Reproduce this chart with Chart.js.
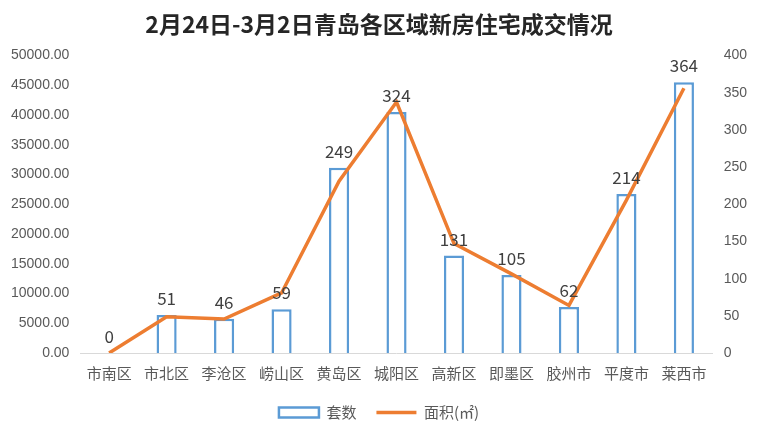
<!DOCTYPE html>
<html>
<head>
<meta charset="utf-8">
<script src="https://cdn.jsdelivr.net/npm/chart.js@4/dist/chart.umd.min.js"></script>
<style>
  body { margin: 0; background: #fff; }
</style>
</head>
<body>
<canvas id="chart_qd" width="762" height="434"></canvas>
<script>
const districts = ['市南区', '市北区', '李沧区', '崂山区', '黄岛区', '城阳区', '高新区', '即墨区', '胶州市', '平度市', '莱西市'];
const units = [0, 51, 46, 59, 249, 324, 131, 105, 62, 214, 364];
const areas = [0, 6100, 5700, 10100, 28900, 42200, 18400, 13300, 8000, 25700, 44500];

// draw the count above each bar
const barLabels = {
    id: 'barLabels',
    afterDatasetsDraw(chart) {
        const ctx = chart.ctx;
        const meta = chart.getDatasetMeta(0);
        ctx.save();
        ctx.font = '17px "Noto Sans CJK SC", sans-serif';
        ctx.fillStyle = '#404040';
        ctx.textAlign = 'center';
        ctx.textBaseline = 'bottom';
        meta.data.forEach((bar, i) => {
            ctx.fillText(units[i], bar.x, bar.y - 8);
        });
        ctx.restore();
    }
};

new Chart(document.getElementById('chart_qd'), {
    data: {
        labels: districts,
        datasets: [
            {
                type: 'bar',
                label: '套数',
                data: units,
                yAxisID: 'yRight',
                backgroundColor: '#ffffff',
                borderColor: '#5b9bd5',
                borderWidth: 2.5,
                barPercentage: 0.35,
                categoryPercentage: 1,
                pointStyle: 'rect',
                order: 2
            },
            {
                type: 'line',
                label: '面积(㎡)',
                data: areas,
                yAxisID: 'yLeft',
                borderColor: '#ed7d31',
                backgroundColor: '#ed7d31',
                borderWidth: 3.5,
                pointRadius: 0,
                pointStyle: 'line',
                tension: 0,
                order: 1
            }
        ]
    },
    options: {
        responsive: false,
        animation: false,
        layout: { padding: { left: 8, right: 12, top: 4, bottom: 4 } },
        plugins: {
            title: {
                display: true,
                text: '2月24日-3月2日青岛各区域新房住宅成交情况',
                font: { size: 23, weight: 'bold', family: '"Noto Sans CJK SC", sans-serif' },
                color: '#262626',
                padding: { top: 6, bottom: 18 }
            },
            legend: {
                position: 'bottom',
                labels: {
                    font: { size: 15, family: '"Noto Sans CJK SC", sans-serif' },
                    color: '#595959',
                    usePointStyle: true,
                    pointStyleWidth: 40,
                    boxHeight: 10,
                    padding: 20,
                    sort: (a, b) => a.datasetIndex - b.datasetIndex
                }
            },
            tooltip: { enabled: false }
        },
        scales: {
            x: {
                grid: { display: false },
                border: { color: '#d9d9d9' },
                ticks: {
                    color: '#595959',
                    font: { size: 15, family: '"Noto Sans CJK SC", sans-serif' },
                    maxRotation: 0,
                    autoSkip: false
                }
            },
            yLeft: {
                position: 'left',
                min: 0,
                max: 50000,
                ticks: {
                    stepSize: 5000,
                    color: '#595959',
                    font: { size: 14 },
                    callback: v => v.toFixed(2)
                },
                grid: { display: false },
                border: { display: false }
            },
            yRight: {
                position: 'right',
                min: 0,
                max: 400,
                ticks: { stepSize: 50, color: '#595959', font: { size: 14 } },
                grid: { display: false },
                border: { display: false }
            }
        }
    },
    plugins: [barLabels]
});
</script>
</body>
</html>
